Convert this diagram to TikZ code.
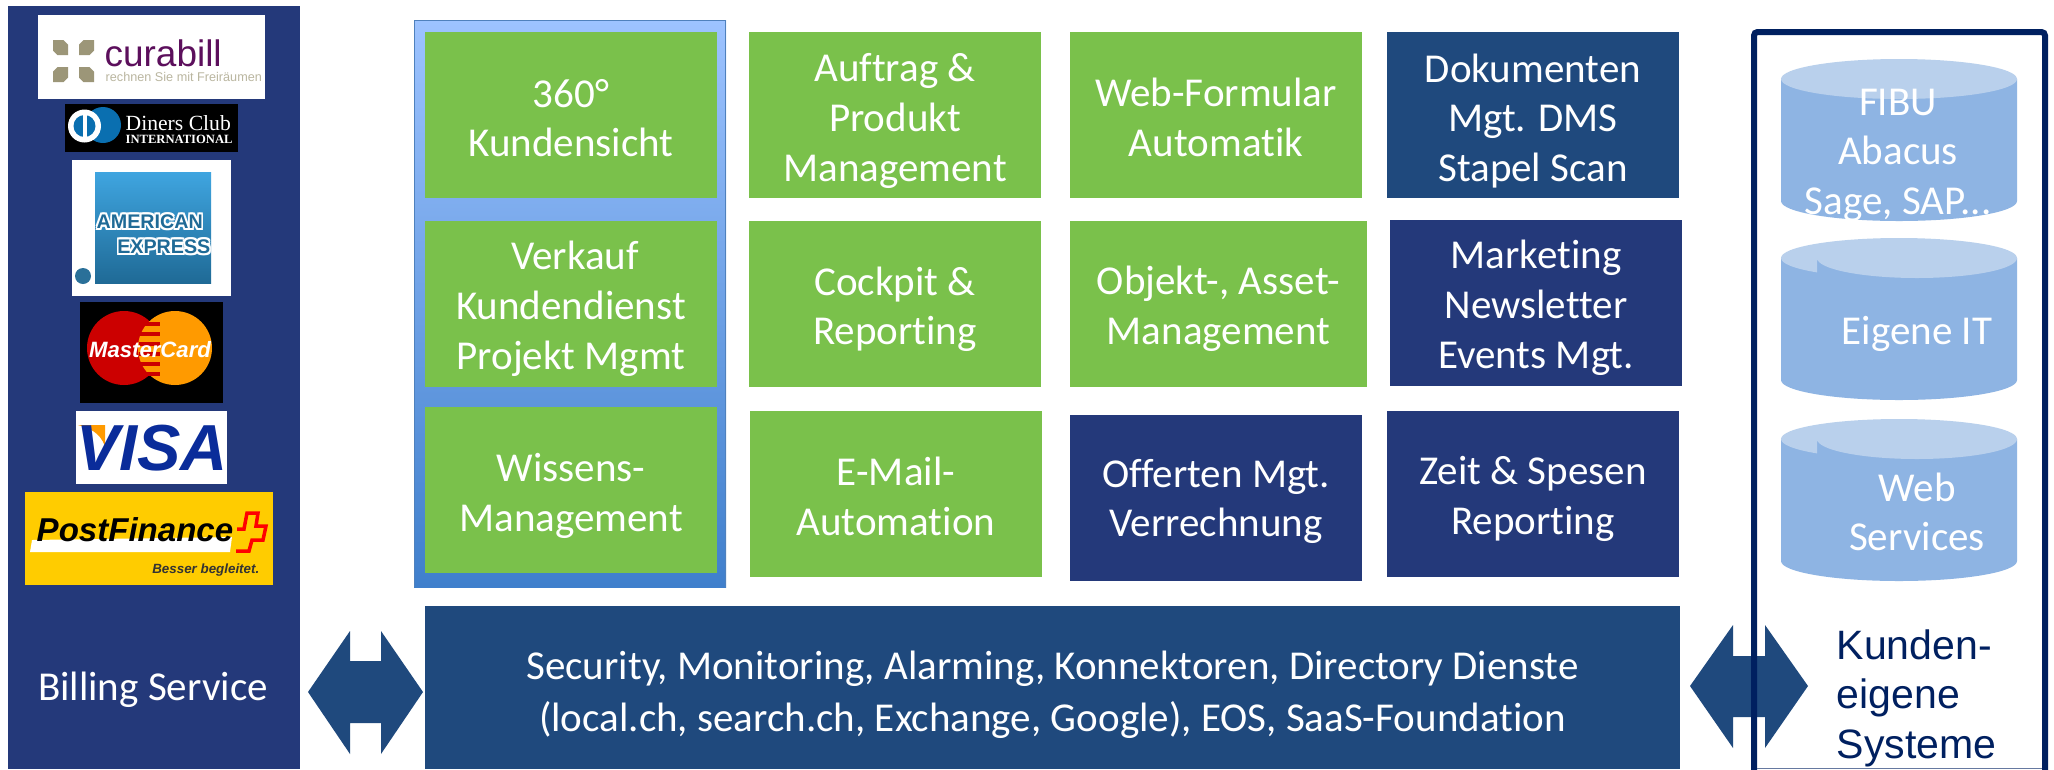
\documentclass[tikz,border=0pt]{standalone}
\usepackage{xcolor}
\usepackage{fontspec}
\setmainfont{Carlito}[Ligatures=NoCommon]
\setsansfont{Liberation Sans}
\newfontfamily\logoserif{Liberation Serif}
\definecolor{c1}{HTML}{24397A}
\definecolor{c2}{HTML}{1F497D}
\definecolor{c3}{HTML}{7AC14B}
\definecolor{c4}{HTML}{8EB4E3}
\definecolor{c5}{HTML}{B9D0EC}
\definecolor{c6}{HTML}{002060}
\definecolor{c7}{HTML}{9C9678}
\definecolor{c8}{HTML}{5C0F5C}
\definecolor{c9}{HTML}{0A6FB0}
\definecolor{c10}{HTML}{2A7099}
\definecolor{c11}{HTML}{CC0000}
\definecolor{c12}{HTML}{FF9A00}
\definecolor{c13}{HTML}{0A2C9A}
\definecolor{c14}{HTML}{FFCC00}
\definecolor{c15}{HTML}{9DC3FF}
\definecolor{c16}{HTML}{8AB4F0}
\definecolor{c17}{HTML}{3F7FCC}
\definecolor{c18}{HTML}{4F81BD}
\definecolor{c19}{HTML}{3FA5E0}
\definecolor{c20}{HTML}{1F6A96}
\newcommand{\drop}[1]{\rule{0pt}{#1cm}}
\tikzset{
	box/.style={minimum width=2.92cm, minimum height=1.66cm, inner sep=0pt, align=center,
		text=white, font=\fontsize{11.67}{14.08}\selectfont},
	greenbox/.style={box, fill=c3},
	navybox/.style={box, fill=c1},
	tealbox/.style={box, fill=c2},
	cyllabel/.style={inner sep=0pt, align=center, text=white, font=\fontsize{11.67}{14.08}\selectfont},
	logotext/.style={inner sep=0pt, font=\sffamily\bfseries\itshape},
}

\begin{document}
\begin{tikzpicture}[x=0.01cm, y=-0.01cm]
	\useasboundingbox (0,0) rectangle (2054,769);
	\fill[white] (0,0) rectangle (2054,769);

	\fill[c1] (8,6) rectangle (300,769);
	\node[cyllabel] (billing) at (153,690) {Billing Service};

	\fill[white] (38,15) rectangle (265,99);
	\foreach \px/\py/\fl in {60.5/47.5/1, 86.5/47.5/-1, 60.5/74.5/-1, 86.5/74.5/1}
		\fill[c7, shift={(\px,\py)}, xscale=\fl] (-7.5,-7.5) -- (3,-7.5) -- (7.5,-3) -- (7.5,7.5) -- (-3,7.5) -- (-7.5,3) -- cycle;
	\node[inner sep=0pt, text=c8, font=\sffamily\fontsize{10.5}{12}\selectfont, anchor=base west] (curabill) at (104,66) {curabill};
	\node[inner sep=0pt, text=c7!70, font=\sffamily\fontsize{3.6}{5}\selectfont, anchor=base west] (curaclaim) at (105,81) {rechnen Sie mit Freiräumen};

	\fill[black] (65,104) rectangle (238,152);
	\fill[c9] (103,125) circle (18);
	\fill[white] (84.5,126) circle (16.5);
	\fill[c9] (84.5,126) circle (11);
	\fill[white] (82.5,114) rectangle (86.5,138);
	\node[inner sep=0pt, text=white, font=\logoserif\fontsize{6.15}{8}\selectfont, anchor=base west] (diners) at (125,130) {Diners Club};
	\node[inner sep=0pt, text=white, font=\logoserif\bfseries\fontsize{3.58}{5}\selectfont, anchor=base west] (dinersint) at (125,143) {INTERNATIONAL};

	\fill[white] (72,160) rectangle (231,296);
	\shade[top color=c19, bottom color=c20] (95,172) rectangle (211,283);
	\foreach \ox/\oy [count=\oi] in {-1.5/0, 1.5/0, 0/-2, 0/2, -1.5/-2, 1.5/2, 1.5/-2, -1.5/2} {
		\node[logotext, text=white, font=\sffamily\bfseries\fontsize{5.6}{7}\selectfont, anchor=west] (amexa\oi) at (96+\ox,222+\oy) {AMERICAN};
		\node[logotext, text=white, font=\sffamily\bfseries\fontsize{5.6}{7}\selectfont, anchor=east] (amexb\oi) at (211+\ox,247+\oy) {EXPRESS};
	}
	\node[logotext, text=c20, font=\sffamily\bfseries\fontsize{5.6}{7}\selectfont, anchor=west] (amex) at (96,222) {AMERICAN};
	\node[logotext, text=c20, font=\sffamily\bfseries\fontsize{5.6}{7}\selectfont, anchor=east] (express) at (211,247) {EXPRESS};
	\fill[c10] (83,276) circle (8);

	\fill[black] (80,302) rectangle (223,403);
	\fill[c11] (124,348) circle (37);
	\fill[c12] (175,348) circle (37);
	\foreach \sy in {322,332,...,372}
		\fill[c11] (139,\sy) rectangle (160,\sy+4);
	\node[logotext, text=white, font=\sffamily\bfseries\itshape\fontsize{6.3}{9}\selectfont] (mastercard) at (150,350) {MasterCard};

	\fill[white] (76,411) rectangle (227,484);
	\fill[c12] (78,425) -- (105,425) -- (105,446) .. controls (100,433) and (90,428) .. (78,425);
	\node[logotext, text=c13, font=\sffamily\bfseries\itshape\fontsize{18.5}{20}\selectfont] (visa) at (152,448) {VISA};

	\fill[c14] (25,492) rectangle (273,585);
	\fill[white] (32,540) -- (232,537) -- (230,552) -- (30,552) -- cycle;
	\node[logotext, text=black, font=\sffamily\bfseries\itshape\fontsize{9.4}{11}\selectfont, anchor=west] (postfinance) at (36,530) {PostFinance};
	\draw[red, line width=0.035cm] (237,529) -- (244,529) -- (247,513) -- (258,513) -- (256,526) -- (266,526) -- (263,540) -- (252,540) -- (249,551) -- (236,551);
	\node[logotext, text=black!80, font=\sffamily\bfseries\itshape\fontsize{3.8}{5}\selectfont, anchor=east] (besser) at (260,570) {Besser begleitet.};

	\fill[c2] (308,692) -- (350,631) -- (350,661) -- (381,661) -- (381,631) -- (423,692) -- (381,754) -- (381,723) -- (350,723) -- (350,754) -- cycle;

	\shade[top color=c15, middle color=c16, bottom color=c17] (414,20) rectangle (726,587);
	\draw[c18, line width=0.015cm] (414.5,587) -- (414.5,20.5) -- (725.5,20.5) -- (725.5,587);

	\node[greenbox] (kundensicht) at (571,115) {\drop{.34}360°\\Kundensicht};
	\node[greenbox] (verkauf) at (571,304) {\drop{.38}\hspace{0.08cm}Verkauf\\Kundendienst\\Projekt Mgmt};
	\node[greenbox] (wissen) at (571,490) {\drop{.40}Wissens-\\Management};

	\node[greenbox] (auftrag) at (895,115) {\drop{.40}Auftrag \&\\Produkt\\Management};
	\node[greenbox] (cockpit) at (895,304) {\drop{.39}Cockpit \&\\Reporting};
	\node[greenbox] (email) at (896,494) {\drop{.33}E-Mail-\\Automation};

	\node[greenbox] (formular) at (1216,115) {\drop{.33}Web-Formular\\Automatik};
	\node[greenbox, minimum width=2.96cm] (objekt) at (1218.5,304) {\drop{.38}Objekt-, Asset-\\Management};
	\node[navybox] (offerten) at (1216,498) {\drop{.35}Offerten Mgt.\\Verrechnung};

	\node[tealbox] (dokumente) at (1533,115) {\drop{.40}Dokumenten\\Mgt. DMS\\Stapel Scan};
	\node[navybox] (marketing) at (1536,303) {\drop{.38}Marketing\\Newsletter\\Events Mgt.};
	\node[navybox] (zeit) at (1533,494) {\drop{.38}Zeit \& Spesen\\Reporting};

	\node[box, fill=c2, minimum width=12.55cm, minimum height=1.63cm, font=\fontsize{11.67}{14.6}\selectfont] (security) at (1052.5,687.5) {\drop{.43}Security, Monitoring, Alarming, Konnektoren, Directory Dienste\\(local.ch, search.ch, Exchange, Google), EOS, SaaS-Foundation};

	\fill[c2] (1690,686) -- (1733,625) -- (1733,656) -- (1765,656) -- (1765,625) -- (1808,686) -- (1765,748) -- (1765,717) -- (1733,717) -- (1733,748) -- cycle;
	\draw[c6, line width=0.06cm, rounded corners=1pt] (1754,772) -- (1754,32) -- (2045,32) -- (2045,772);
	\draw[c6!60, line width=0.01cm] (1757,768) -- (2042,768);

	\fill[c4] (1781,79) -- (1781,201) arc[start angle=180, end angle=0, x radius=118, y radius=20] -- (2017,79) -- cycle;
	\fill[c5] (1899,79) ellipse [x radius=118, y radius=20];
	\foreach \cy in {258,439} {
		\fill[c4] (1781,\cy) -- (1781,\cy+122) arc[start angle=180, end angle=0, x radius=118, y radius=20] -- (2017,\cy) -- cycle;
		\fill[c5] (1781,\cy) arc[start angle=180, end angle=360, x radius=118, y radius=20]
			arc[start angle=0, end angle=180, x radius=100, y radius=20]
			-- (1817,\cy+14.4) arc[start angle=134, end angle=180, x radius=118, y radius=20] -- cycle;
	}
	\node[cyllabel] (fibu) at (1898,155) {FIBU\\Abacus\\Sage, SAP...};
	\node[cyllabel] (eigene) at (1917,334) {Eigene IT};
	\node[cyllabel] (web) at (1917,512) {Web\\Services};

	\node[inner sep=0pt, align=left, text=c6, anchor=west, font=\sffamily\fontsize{11.67}{14.08}\selectfont] (kunden) at (1836,698) {Kunden-\\eigene\\Systeme};
\end{tikzpicture}
\end{document}
